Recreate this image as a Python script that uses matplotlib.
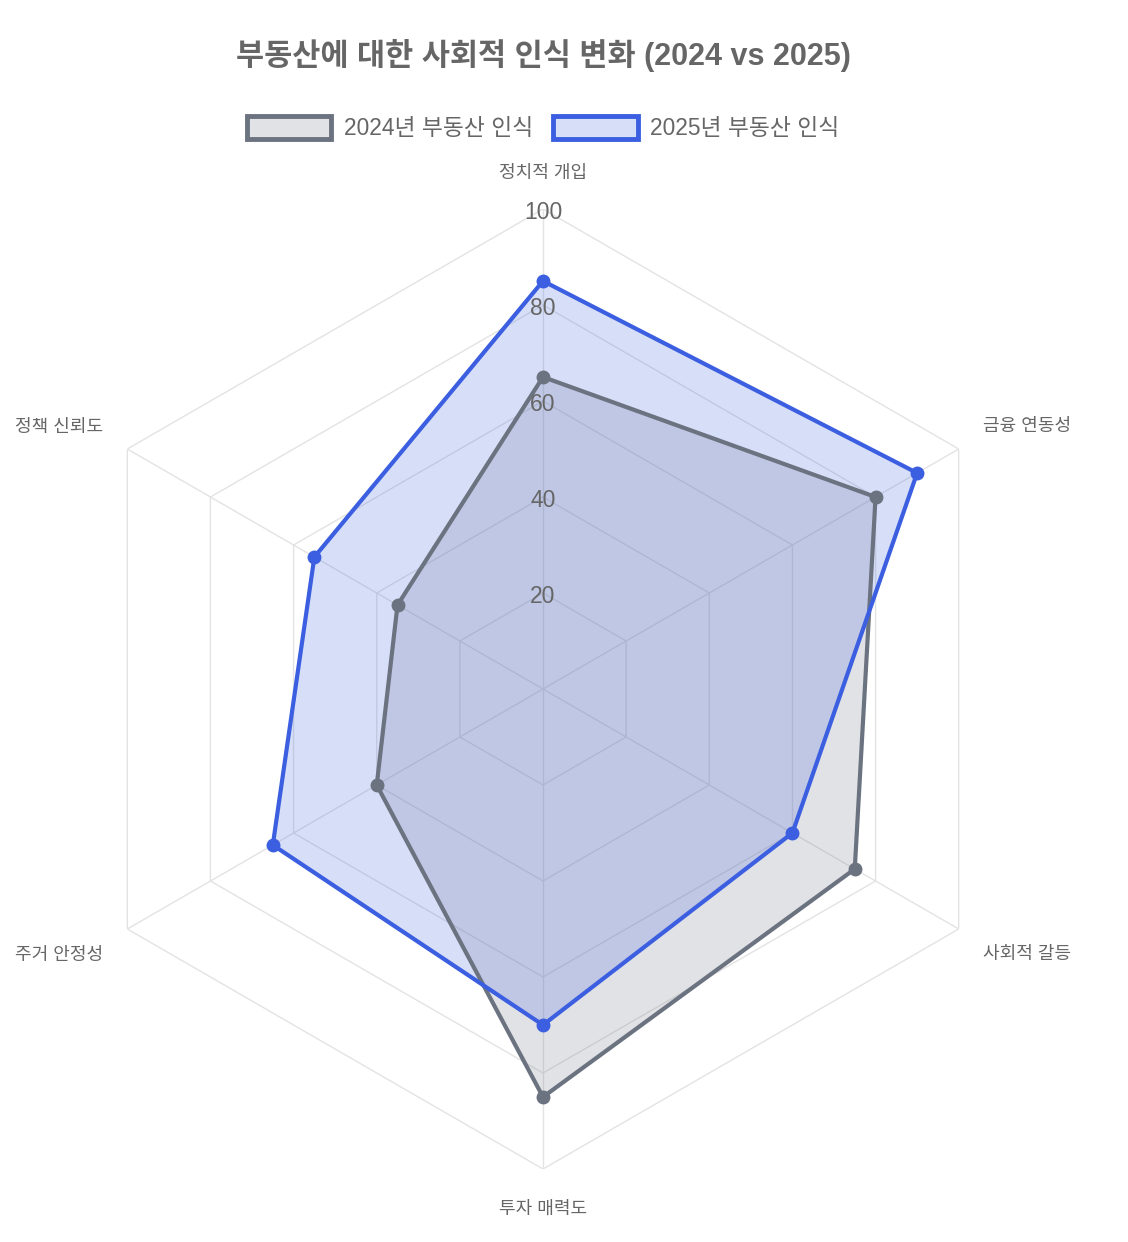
import numpy as np
import matplotlib
matplotlib.use("Agg")
import matplotlib.pyplot as plt
from matplotlib.patches import Patch

plt.rcParams['font.family'] = ['Liberation Sans', 'Noto Sans CJK KR', 'DejaVu Sans']

labels = ["정치적 개입", "금융 연동성", "사회적 갈등", "투자 매력도", "주거 안정성", "정책 신뢰도"]
values_2024 = [65, 80, 75, 85, 40, 35]
values_2025 = [85, 90, 60, 70, 65, 55]
series_names = ["2024년 부동산 인식", "2025년 부동산 인식"]
ticks = [20, 40, 60, 80, 100]

gray = "#6b7280"
blue = "#3b5fe0"
text_color = "#666666"
grid_color = "#e3e3e3"

n = len(labels)
angles = np.linspace(0, 2 * np.pi, n, endpoint=False)
closed = np.append(angles, angles[0])

fig = plt.figure(figsize=(11.28, 12.42), dpi=100)
ax = fig.add_axes([63 / 1128, 73 / 1242, 960 / 1128, 960 / 1242], projection='polar')
ax.set_theta_zero_location('N')
ax.set_theta_direction(-1)
ax.set_ylim(0, 100)
ax.grid(False)
ax.set_xticks([])
ax.set_yticks([])
ax.spines['polar'].set_visible(False)

# hexagonal grid
for t in ticks:
    ax.plot(closed, [t] * (n + 1), color=grid_color, lw=1, zorder=1)
for a in angles:
    ax.plot([a, a], [0, 100], color=grid_color, lw=1, zorder=1)

for vals, color in [(values_2024, gray), (values_2025, blue)]:
    v = np.append(vals, vals[0])
    ax.fill(closed, v, color=color, alpha=0.2, lw=0, zorder=2)
    ax.plot(closed, v, color=color, lw=3, zorder=3)
    ax.plot(angles, vals, 'o', color=color, ms=9, zorder=4)

for t in ticks:
    ax.annotate(str(t), (0, t), xytext=(0, -1), textcoords='offset pixels',
                ha='center', va='center_baseline', fontsize=16.5,
                color=text_color, zorder=6)

# point labels sit just outside the outer ring
for a, lab in zip(angles, labels):
    s, c = np.sin(a), np.cos(a)
    if abs(s) < 0.01:
        ha, off = 'center', (0, 38 * np.sign(c))
    else:
        ha = 'left' if s > 0 else 'right'
        off = (24 * np.sign(s), 24 * np.sign(c))
    ax.annotate(lab, (a, 100), xytext=off, textcoords='offset pixels',
                ha=ha, va='center_baseline', fontsize=13, color=text_color)

fig.text(543 / 1128, 1 - 55 / 1242, "부동산에 대한 사회적 인식 변화 (2024 vs 2025)",
         ha='center', va='center', fontsize=22, fontweight='bold', color=text_color)

handles = [Patch(facecolor=(0.42, 0.447, 0.502, 0.2), edgecolor=gray, linewidth=3.5),
           Patch(facecolor=(0.231, 0.373, 0.878, 0.2), edgecolor=blue, linewidth=3.5)]
leg = fig.legend(handles, series_names, loc='center', bbox_to_anchor=(543 / 1128, 1 - 128 / 1242),
                 ncol=2, frameon=False, fontsize=16.4, handlelength=3.7, handleheight=1.15,
                 handletextpad=0.55, columnspacing=0.9)
for txt in leg.get_texts():
    txt.set_color(text_color)

fig.savefig("out.png", dpi=100, facecolor="white")
